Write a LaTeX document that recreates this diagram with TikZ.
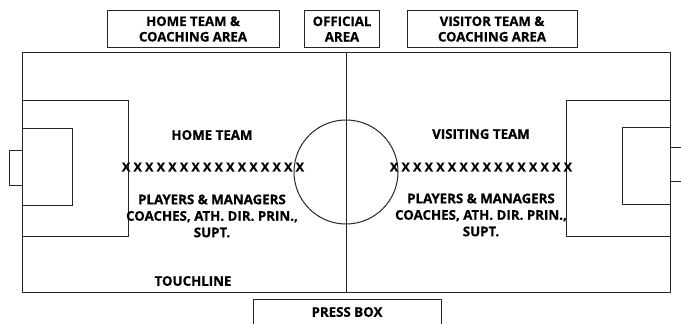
\documentclass[tikz,border=0pt]{standalone}
\usepackage{fontspec}
\setmainfont{Open Sans}[BoldFont={Open Sans Bold}, BoldFeatures={FakeBold=0.6}]
\usetikzlibrary{positioning}

\begin{document}
\begin{tikzpicture}[
    x=1pt, y=-1pt,
    field/.style={draw=black!85, line width=1pt},
    areabox/.style={rectangle, draw=black!85, line width=1pt, fill=white, text centered, align=center, inner sep=0pt, font=\bfseries\fontsize{13.2}{15.5}\selectfont},
    fieldtext/.style={align=center, inner sep=0pt, font=\bfseries\fontsize{13.3}{16.5}\selectfont},
    xrow/.style={inner sep=0pt, font=\bfseries\fontsize{12.5}{14}\selectfont}
]
\clip (0,0) rectangle (681,324);

% === FIELD ===
\draw [field] (22,52) rectangle (670,292);
\draw [field] (346,52) -- (346,292);
\draw [field] (346,172) circle (52);

% left end
\draw [field] (22,100) rectangle (128,236);
\draw [field] (22,128) rectangle (72,205);
\draw [field] (9,150) rectangle (22,185);

% right end
\draw [field] (566,100) rectangle (670,236);
\draw [field] (622,127) rectangle (670,204);
\draw [field] (670,147) rectangle (692,181);

% === AREAS ===
\node (homearea) [areabox, minimum width=172pt, minimum height=37pt] at (193,29) {HOME TEAM \&\\COACHING AREA};
\node (officialarea) [areabox, minimum width=75pt, minimum height=37pt] at (342,29) {OFFICIAL\\AREA};
\node (visitorarea) [areabox, minimum width=170pt, minimum height=37pt] at (492,29) {VISITOR TEAM \&\\COACHING AREA};
\node (pressbox) [areabox, minimum width=188pt, minimum height=40pt, anchor=north] at (347,299) {};
\node (presslabel) [fieldtext] at (347,312) {PRESS BOX};

% === HOME SIDE ===
\node (hometeam) [fieldtext] at (212,135) {HOME TEAM};
\node (homerow) [xrow] at (213,167) {X X X X X X X X X X X X X X X X};
\node (homestaff) [fieldtext] at (212,216) {PLAYERS \& MANAGERS\\COACHES, ATH. DIR. PRIN.,\\SUPT.};
\node (touchline) [fieldtext] at (193,281) {TOUCHLINE};

% === VISITOR SIDE ===
\node (visitteam) [fieldtext] at (481,134) {VISITING TEAM};
\node (visitrow) [xrow] at (481,167) {X X X X X X X X X X X X X X X X};
\node (visitstaff) [fieldtext] at (481,215) {PLAYERS \& MANAGERS\\COACHES, ATH. DIR. PRIN.,\\SUPT.};

\end{tikzpicture}
\end{document}
